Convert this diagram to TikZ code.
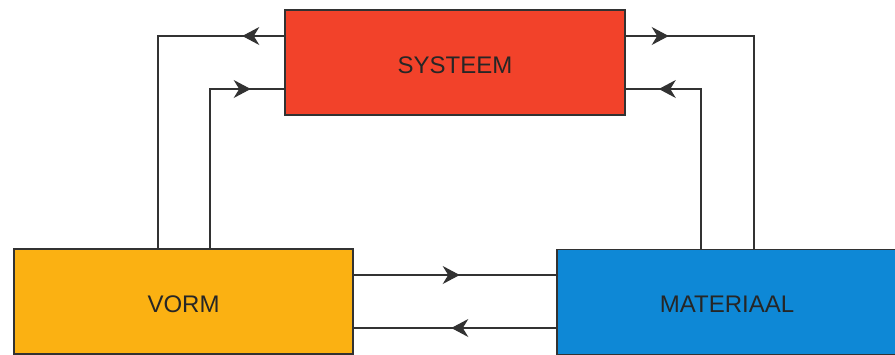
\documentclass[tikz,border=0pt]{standalone}
\usepackage{fontspec}
\setmainfont{Liberation Sans}
\usetikzlibrary{arrows.meta,decorations.markings}

\definecolor{sysred}{RGB}{242,66,42}
\definecolor{vormorange}{RGB}{251,177,18}
\definecolor{matblue}{RGB}{14,136,214}
\definecolor{ink}{RGB}{50,50,50}

\tikzset{
  block/.style={draw=ink, line width=1.4pt, rectangle, inner sep=0pt,
    minimum width=340pt, minimum height=105pt,
    font=\fontsize{24}{28}\selectfont, text=black!85,
    text height=21pt, text depth=0pt},
  flow/.style={draw=ink, line width=1.2pt},
  tipat/.style={postaction={decorate}, decoration={markings,
    mark=at position #1 with {\arrow{Stealth[length=17pt,width=18pt,inset=5.5pt]}}}}
}

\begin{document}
\begin{tikzpicture}[x=1pt,y=-1pt]
\useasboundingbox (0,0) rectangle (895,354);

% the three blocks
\node[block, fill=sysred]    (sys) at (455,62.5)  {SYSTEEM};
\node[block, fill=vormorange, minimum width=339pt] (vorm) at (183.5,301.5) {VORM};
\node[block, fill=matblue]   (mat) at (727,302)   {MATERIAAL};

% corner points of the feedback loops
\coordinate (lo) at (158,36);
\coordinate (li) at (210,89);
\coordinate (ro) at (754,36);
\coordinate (ri) at (701,89);

% left loops
\draw[flow, tipat=42pt] (sys.west |- lo) -- (lo) -- (lo |- vorm.north);
\draw[flow, tipat=200pt] (li |- vorm.north) -- (li) -- (sys.west |- li);

% right loops
\draw[flow, tipat=43pt] (sys.east |- ro) -- (ro) -- (ro |- mat.north);
\draw[flow, tipat=202pt] (ri |- mat.north) -- (ri) -- (sys.east |- ri);

% middle links
\coordinate (mt) at (0,275);
\coordinate (mb) at (0,328);
\draw[flow, tipat=106pt] (vorm.east |- mt) -- (mat.west |- mt);
\draw[flow, tipat=105pt] (mat.west |- mb) -- (vorm.east |- mb);
\end{tikzpicture}
\end{document}
